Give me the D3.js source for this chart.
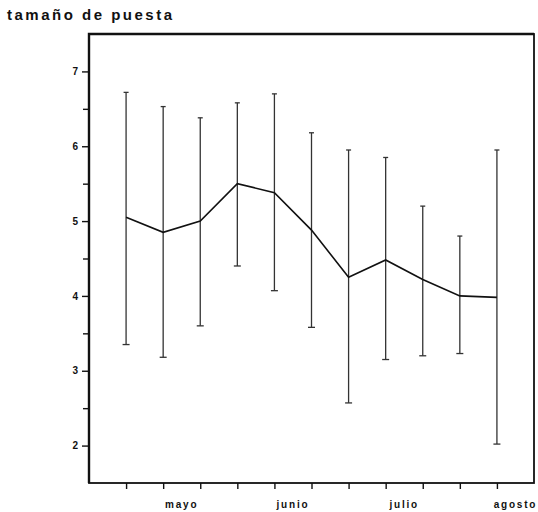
<!DOCTYPE html>
<html>
<head>
<meta charset="utf-8">
<script src="https://cdn.jsdelivr.net/npm/d3@7"></script>
<style>
  body { margin: 0; background: #fff; }
  text { font-family: "Liberation Sans", Arial, sans-serif; font-weight: bold; fill: #111; }
</style>
</head>
<body>
<div id="chart"></div>
<script>
  // Data: clutch size (mean and range) per half-month period
  const periods = [1, 2, 3, 4, 5, 6, 7, 8, 9, 10, 11];
  const means = [5.05, 4.85, 5.0, 5.5, 5.38, 4.88, 4.25, 4.48, 4.22, 4.0, 3.98];
  const upper = [6.72, 6.53, 6.38, 6.58, 6.70, 6.18, 5.95, 5.85, 5.20, 4.80, 5.95];
  const lower = [3.35, 3.18, 3.60, 4.40, 4.07, 3.58, 2.57, 3.15, 3.20, 3.23, 2.02];
  const monthLabels = ["mayo", "junio", "julio", "agosto"];
  const monthPos = [2.5, 5.5, 8.5, 11.5];
  const yTicks = [2, 3, 4, 5, 6, 7];
  const yMinorTicks = [2.5, 3.5, 4.5, 5.5, 6.5];

  const width = 538;
  const height = 512;
  const margin = { top: 34, right: 4, bottom: 29, left: 89 };
  const chartWidth = width - margin.left - margin.right;
  const chartHeight = height - margin.top - margin.bottom;

  const svg = d3.select("#chart")
    .append("svg")
    .attr("width", width)
    .attr("height", height);

  const chart = svg.append("g")
    .attr("transform", `translate(${margin.left}, ${margin.top})`);

  const x = d3.scaleLinear().domain([0, 12]).range([0, chartWidth]);
  const y = d3.scaleLinear().domain([1.5, 7.5]).range([chartHeight, 0]);

  // Title / y label
  svg.append("text")
    .attr("x", 7)
    .attr("y", 20)
    .attr("font-size", "15px")
    .attr("letter-spacing", "2.5px")
    .text("tamaño de puesta");

  // Frame
  chart.append("rect")
    .attr("x", 0)
    .attr("y", 0)
    .attr("width", chartWidth)
    .attr("height", chartHeight)
    .attr("fill", "none")
    .attr("stroke", "#111")
    .attr("stroke-width", 1.8);

  // thicker top and left border, as in the print
  chart.append("path")
    .attr("d", `M0,${chartHeight}V0H${chartWidth}`)
    .attr("fill", "none")
    .attr("stroke", "#111")
    .attr("stroke-width", 2.4);

  // Y axis
  chart.append("g")
    .call(d3.axisLeft(y).tickValues(yTicks).tickSize(7).tickPadding(4).tickFormat(d3.format("d")))
    .call(g => g.select(".domain").remove())
    .call(g => g.selectAll(".tick line").attr("stroke", "#111").attr("stroke-width", 1.4))
    .call(g => g.selectAll(".tick text")
      .attr("font-size", "10px")
      .attr("font-family", "Liberation Sans, Arial, sans-serif")
      .attr("font-weight", "bold")
      .attr("fill", "#111"));

  chart.append("g")
    .call(d3.axisLeft(y).tickValues(yMinorTicks).tickSize(6).tickFormat(""))
    .call(g => g.select(".domain").remove())
    .call(g => g.selectAll(".tick line").attr("stroke", "#111").attr("stroke-width", 1.4));

  // X axis ticks
  chart.append("g")
    .attr("transform", `translate(0, ${chartHeight})`)
    .call(d3.axisBottom(x).tickValues(periods).tickSize(6).tickFormat(""))
    .call(g => g.select(".domain").remove())
    .call(g => g.selectAll(".tick line").attr("stroke", "#111").attr("stroke-width", 1.4));

  // Month labels
  chart.selectAll(".month")
    .data(monthLabels)
    .enter()
    .append("text")
    .attr("class", "month")
    .attr("x", (d, i) => x(monthPos[i]))
    .attr("y", chartHeight + 25)
    .attr("text-anchor", "middle")
    .attr("font-size", "10px")
    .attr("letter-spacing", "1.8px")
    .text(d => d);

  // Error bars
  const bars = chart.selectAll(".err")
    .data(periods)
    .enter()
    .append("g")
    .attr("class", "err");

  bars.append("line")
    .attr("x1", d => x(d))
    .attr("x2", d => x(d))
    .attr("y1", (d, i) => y(upper[i]))
    .attr("y2", (d, i) => y(lower[i]))
    .attr("stroke", "#333")
    .attr("stroke-width", 1.3);

  bars.append("line")
    .attr("x1", d => x(d) - 2.5)
    .attr("x2", d => x(d) + 2.5)
    .attr("y1", (d, i) => y(upper[i]))
    .attr("y2", (d, i) => y(upper[i]))
    .attr("stroke", "#333")
    .attr("stroke-width", 1.3);

  bars.append("line")
    .attr("x1", d => x(d) - 3.5)
    .attr("x2", d => x(d) + 3.5)
    .attr("y1", (d, i) => y(lower[i]))
    .attr("y2", (d, i) => y(lower[i]))
    .attr("stroke", "#333")
    .attr("stroke-width", 1.3);

  // Mean line
  const line = d3.line()
    .x((d, i) => x(periods[i]))
    .y(d => y(d));

  chart.append("path")
    .datum(means)
    .attr("d", line)
    .attr("fill", "none")
    .attr("stroke", "#111")
    .attr("stroke-width", 1.6);
</script>
</body>
</html>
